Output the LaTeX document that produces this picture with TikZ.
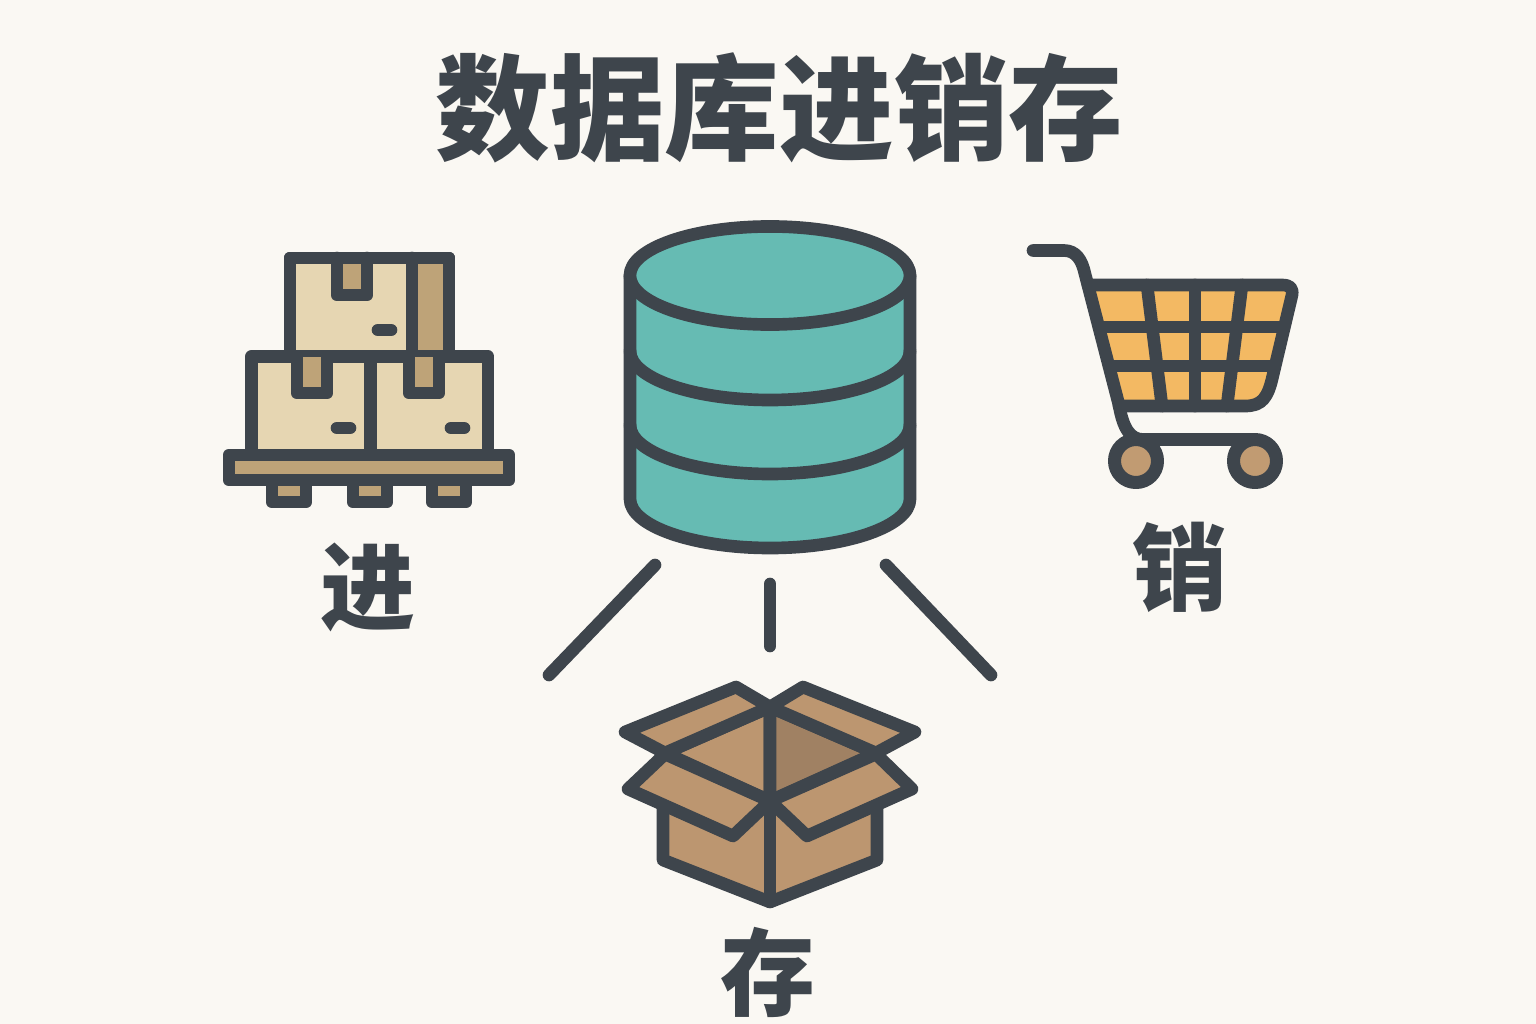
\documentclass[tikz,border=0pt]{standalone}
\usepackage{fontspec}
\setmainfont{Noto Sans CJK SC}[BoldFont={Noto Sans CJK SC Black}]
\definecolor{bgcol}{HTML}{FAF8F3}
\definecolor{inkcol}{HTML}{3E454C}
\definecolor{creamcol}{HTML}{E6D6B2}
\definecolor{tancol}{HTML}{BEA378}
\definecolor{tealcol}{HTML}{66BBB3}
\definecolor{ambercol}{HTML}{F3B963}
\definecolor{cardcol}{HTML}{BC9670}
\definecolor{darkcardcol}{HTML}{A08163}
\definecolor{wheelcol}{HTML}{C19B72}
\tikzset{
  icon/.style={draw=inkcol,line width=3.6pt,line join=round,line cap=round},
  bigword/.style={font=\bfseries\fontsize{27}{27}\selectfont,text=inkcol,inner sep=0pt},
}
\begin{document}
\begin{tikzpicture}[x=0.01cm,y=-0.01cm]
  \useasboundingbox (0,0) rectangle (1536,1024);
  \fill[bgcol] (0,0) rectangle (1536,1024);
  \node[bigword,font=\bfseries\fontsize{32.6}{33}\selectfont] (title) at (779.5,108) {数据库进销存};

  \draw[icon,fill=creamcol] (290,356) rectangle (449,258);
  \fill[tancol] (412,258) rectangle (449,356);
  \draw[icon,fill=tancol] (337,258) -- (337,295) -- (367,295) -- (367,258);
  \draw[icon] (290,356) rectangle (449,258) (412,258) -- (412,356);
  \draw[icon] (378,330) -- (391,330);
  \draw[icon,fill=creamcol] (251.5,356.5) rectangle (488,455);
  \draw[icon] (370.5,356.5) -- (370.5,455);
  \draw[icon,fill=tancol] (297,356.5) -- (297,393) -- (327,393) -- (327,356.5);
  \draw[icon,fill=tancol] (409,356.5) -- (409,393) -- (439,393) -- (439,356.5);
  \draw[icon] (337,428) -- (350,428);
  \draw[icon] (451,428) -- (464,428);
  \foreach \footx in {272,353,432}
    \draw[icon,fill=tancol] (\footx,480) rectangle (\footx+34,502);
  \draw[icon,fill=tancol] (229,455) rectangle (509,480);
  \node[bigword] (jin) at (368,587) {进};

  \draw[icon,fill=tealcol] (630,276) -- (630,499) .. controls (630,526) and (693,548) .. (770,548) .. controls (847,548) and (910,526) .. (910,499) -- (910,276);
  \draw[icon,fill=tealcol] (770,275.5) ellipse [x radius=1.4cm,y radius=0.49cm];
  \foreach \bandy in {351,425}
    \draw[icon] (630,\bandy) .. controls (630,\bandy+27) and (693,\bandy+49) .. (770,\bandy+49) .. controls (847,\bandy+49) and (910,\bandy+27) .. (910,\bandy);
  \coordinate (dbleft) at (655,565);
  \coordinate (dbmid) at (770,584);
  \coordinate (dbright) at (886,565);
  \coordinate (endleft) at (549,675);
  \coordinate (endmid) at (770,646);
  \coordinate (endright) at (991,675);
  \draw[icon] (dbleft) -- (endleft);
  \draw[icon] (dbmid) -- (endmid);
  \draw[icon] (dbright) -- (endright);

  \fill[ambercol] (1088,285) -- (1285,285) -- (1293,292) -- (1273,372) .. controls (1268,398) and (1262,406) .. (1250,406) -- (1119,406) -- cycle;
  \draw[icon] (1147,285) -- (1162,406);
  \draw[icon] (1195,285) -- (1195,406);
  \draw[icon] (1242,285) -- (1227,406);
  \draw[icon] (1101,327) -- (1280,327);
  \draw[icon] (1111,366) -- (1271,366);
  \draw[icon] (1033,250.5) -- (1064,250.5) .. controls (1076,250.5) and (1082,260) .. (1085,274) -- (1119,405) .. controls (1123,428) and (1130,439.5) .. (1143,439.5) -- (1255,439.5);
  \draw[icon] (1088,285) -- (1282,285) .. controls (1290,285) and (1293,288) .. (1292,295) -- (1273,375) .. controls (1268,398) and (1262,406) .. (1245,406) -- (1119,406);
  \draw[icon,line width=3.7pt,fill=wheelcol] (1136,461) circle [radius=0.215cm];
  \draw[icon,line width=3.7pt,fill=wheelcol] (1255,461) circle [radius=0.215cm];
  \node[bigword] (xiao) at (1180,567) {销};

  \draw[icon,fill=cardcol] (663,806) -- (663,860) -- (770,902) -- (877,860) -- (877,806) -- (770,801) -- cycle;
  \draw[icon,fill=cardcol] (665,753) -- (770,707) -- (770,801) -- cycle;
  \draw[icon,fill=darkcardcol] (770,707) -- (876,753) -- (770,801) -- cycle;
  \draw[icon,fill=cardcol] (736,687) -- (625,732) -- (665,753) -- (770,707) -- cycle;
  \draw[icon,fill=cardcol] (803,687) -- (915,732) -- (876,753) -- (770,707) -- cycle;
  \draw[icon,fill=cardcol] (665,754) -- (628,789) -- (733,836) -- (770,801) -- cycle;
  \draw[icon,fill=cardcol] (876,754) -- (912,789) -- (807,836) -- (770,801) -- cycle;
  \draw[icon] (770,801) -- (770,902);
  \node[bigword] (cun) at (768,972) {存};
\end{tikzpicture}
\end{document}
